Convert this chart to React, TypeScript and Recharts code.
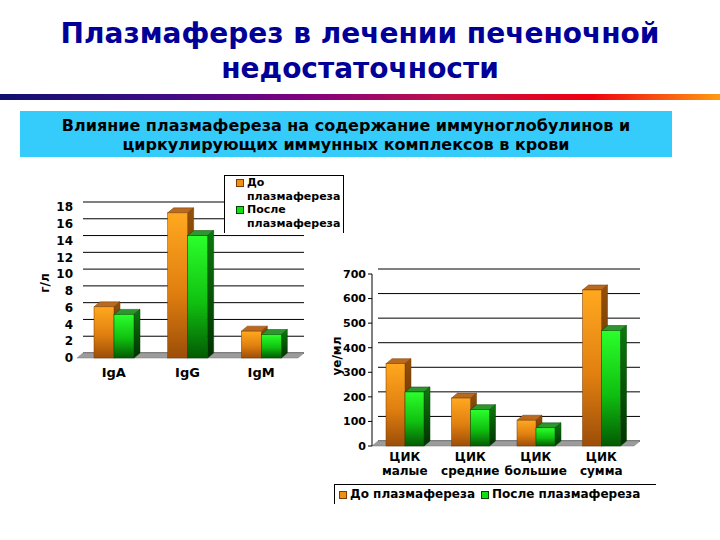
import { BarChart, Bar, XAxis, YAxis, CartesianGrid, ReferenceArea } from "recharts";

// left chart: immunoglobulins, g/l
const igCategories = ["IgA", "IgG", "IgM"];
const igBefore = [6.1, 17.3, 3.2];
const igAfter = [5.2, 14.6, 2.8];
const igTicks = [0, 2, 4, 6, 8, 10, 12, 14, 16, 18];

// right chart: circulating immune complexes, units/ml
const cicCategories = ["ЦИК малые", "ЦИК средние", "ЦИК большие", "ЦИК сумма"];
const cicBefore = [335, 195, 105, 635];
const cicAfter = [220, 148, 74, 470];
const cicTicks = [0, 100, 200, 300, 400, 500, 600, 700];

const seriesNames = ["До плазмафереза", "После плазмафереза"];

const igData = igCategories.map((name, i) => ({ name, before: igBefore[i], after: igAfter[i] }));
const cicData = cicCategories.map((name, i) => ({ name, before: cicBefore[i], after: cicAfter[i] }));

const FONT = "'DejaVu Sans', Verdana, sans-serif";
const DX = 6;
const DY = 5;

const palette = {
  before: { front: "url(#gradOrange)", top: "#B96A1E", side: "url(#gradOrangeSide)", stroke: "#7a3b00", legend: "#F09010" },
  after: { front: "url(#gradGreen)", top: "#2E962E", side: "url(#gradGreenSide)", stroke: "#004400", legend: "#10E010" },
};

const makeBar3D = (c: typeof palette.before) => (props: any) => {
  const { x, y, width, height } = props;
  if (!height || height <= 0) return <g />;
  return (
    <g>
      <polygon
        points={`${x},${y} ${x + DX},${y - DY} ${x + width + DX},${y - DY} ${x + width},${y}`}
        fill={c.top}
        stroke={c.stroke}
        strokeWidth={0.5}
      />
      <polygon
        points={`${x + width},${y} ${x + width + DX},${y - DY} ${x + width + DX},${y + height - DY} ${x + width},${y + height}`}
        fill={c.side}
        stroke={c.stroke}
        strokeWidth={0.5}
      />
      <rect x={x} y={y} width={width} height={height} fill={c.front} stroke={c.stroke} strokeWidth={0.5} />
    </g>
  );
};

const wallLine = (p: any) => (
  <line
    key={`wl-${p.index}-${p.y1}`}
    x1={p.x1 + DX}
    y1={p.y1 - DY}
    x2={p.x2 + DX}
    y2={p.y2 - DY}
    stroke="#000"
    strokeWidth={1}
  />
);

const floorShape = (p: any) => {
  const { x, y, width } = p;
  return (
    <polygon
      points={`${x},${y} ${x + DX},${y - DY} ${x + width + DX},${y - DY} ${x + width},${y}`}
      fill="#9c9c9c"
      stroke="#7a7a7a"
      strokeWidth={0.5}
    />
  );
};

const Gradients = () => (
  <defs>
    <linearGradient id="gradOrange" x1="0" y1="0" x2="0" y2="1">
      <stop offset="0%" stopColor="#FFA81F" />
      <stop offset="55%" stopColor="#E07F10" />
      <stop offset="100%" stopColor="#9C4D08" />
    </linearGradient>
    <linearGradient id="gradOrangeSide" x1="0" y1="0" x2="0" y2="1">
      <stop offset="0%" stopColor="#94500A" />
      <stop offset="100%" stopColor="#4E2600" />
    </linearGradient>
    <linearGradient id="gradGreen" x1="0" y1="0" x2="0" y2="1">
      <stop offset="0%" stopColor="#2BFF2B" />
      <stop offset="55%" stopColor="#10C010" />
      <stop offset="100%" stopColor="#035A03" />
    </linearGradient>
    <linearGradient id="gradGreenSide" x1="0" y1="0" x2="0" y2="1">
      <stop offset="0%" stopColor="#0B7A0B" />
      <stop offset="100%" stopColor="#023002" />
    </linearGradient>
  </defs>
);

const tickStyle = (size: number) => ({ fill: "#000", fontSize: size, fontWeight: "bold", fontFamily: FONT });

const IgTick = (p: any) => (
  <text x={p.x} y={p.y} dy={19} textAnchor="middle" fontSize={13} fontWeight="bold" fontFamily={FONT} fill="#000">
    {p.payload.value}
  </text>
);

const CicTick = (p: any) => {
  const [a, b] = String(p.payload.value).split(" ");
  return (
    <text x={p.x} y={p.y} textAnchor="middle" fontSize={12} fontWeight="bold" fontFamily={FONT} fill="#000">
      <tspan x={p.x} dy={15}>{a}</tspan>
      <tspan x={p.x} dy={14}>{b}</tspan>
    </text>
  );
};

const swatch = (color: string, border: string) => ({
  display: "inline-block",
  width: 6,
  height: 6,
  background: color,
  border: `1px solid ${border}`,
});

export default function App() {
  return (
    <div style={{ position: "absolute", left: 0, top: 0, width: 720, height: 540, background: "#fff", overflow: "hidden", fontFamily: FONT }}>
      <div
        style={{
          position: "absolute",
          top: 16,
          left: 0,
          width: 720,
          textAlign: "center",
          color: "#000099",
          fontWeight: "bold",
          fontSize: 28,
          lineHeight: "35px",
        }}
      >
        Плазмаферез в лечении печеночной
        <br />
        недостаточности
      </div>
      <div
        style={{
          position: "absolute",
          top: 94,
          left: 0,
          width: 720,
          height: 6,
          background: "linear-gradient(to right, #10106e 0%, #3c0c86 22%, #800080 42%, #c0104a 62%, #f00010 82%, #ff9a10 100%)",
        }}
      />
      <div
        style={{
          position: "absolute",
          top: 111,
          left: 20,
          width: 652,
          height: 46,
          background: "#35CCFB",
          textAlign: "center",
          fontWeight: "bold",
          fontSize: 16,
          lineHeight: "19px",
          paddingTop: 5,
          boxSizing: "border-box",
          color: "#000",
        }}
      >
        Влияние плазмафереза на содержание иммуноглобулинов и
        <br />
        циркулирующих иммунных комплексов в крови
      </div>

      {/* left chart */}
      <div style={{ position: "absolute", left: 0, top: 160 }}>
        <BarChart width={360} height={240} data={igData} margin={{ top: 47, right: 62, bottom: 12, left: 27 }} barGap={0}>
          <Gradients />
          <CartesianGrid vertical={false} horizontal={wallLine} />
          <ReferenceArea y1={0} y2={0} shape={floorShape} />
          <XAxis dataKey="name" axisLine={false} tickLine={false} tickSize={0} tickMargin={0} height={30} tick={IgTick} interval={0} />
          <YAxis
            domain={[0, 18]}
            ticks={igTicks}
            width={50}
            axisLine={false}
            tickLine={false}
            tickSize={0}
            tickMargin={4}
            tick={tickStyle(12)}
            interval={0}
          />
          <Bar dataKey="before" name={seriesNames[0]} barSize={20} isAnimationActive={false} shape={makeBar3D(palette.before)} />
          <Bar dataKey="after" name={seriesNames[1]} barSize={20} isAnimationActive={false} shape={makeBar3D(palette.after)} />
        </BarChart>
      </div>
      <div
        style={{
          position: "absolute",
          left: 33,
          top: 275,
          width: 24,
          textAlign: "center",
          transform: "rotate(-90deg)",
          fontWeight: "bold",
          fontSize: 12,
          lineHeight: "16px",
        }}
      >
        г/л
      </div>
      <div
        style={{
          position: "absolute",
          left: 224,
          top: 175,
          width: 120,
          height: 58,
          borderTop: "1px solid #000",
          borderLeft: "1px solid #000",
          borderRight: "1px solid #000",
          background: "#fff",
          fontWeight: "bold",
          fontSize: 11,
          lineHeight: "13.7px",
          boxSizing: "border-box",
        }}
      >
        {seriesNames.map((n, i) => (
          <div key={n} style={{ position: "relative", paddingLeft: 22, width: 96 }}>
            <span
              style={{
                ...swatch(i === 0 ? palette.before.legend : palette.after.legend, i === 0 ? palette.before.stroke : palette.after.stroke),
                position: "absolute",
                left: 11,
                top: 3,
              }}
            />
            {n}
          </div>
        ))}
      </div>

      {/* right chart */}
      <div style={{ position: "absolute", left: 320, top: 250 }}>
        <BarChart width={340} height={240} data={cicData} margin={{ top: 24, right: 26, bottom: 8, left: 12 }} barGap={0}>
          <Gradients />
          <CartesianGrid vertical={false} horizontal={wallLine} />
          <ReferenceArea y1={0} y2={0} shape={floorShape} />
          <XAxis dataKey="name" axisLine={false} tickLine={false} tickSize={0} tickMargin={0} height={36} tick={CicTick} interval={0} />
          <YAxis
            domain={[0, 700]}
            ticks={cicTicks}
            width={40}
            axisLine={{ stroke: "#000" }}
            tickLine={{ stroke: "#000" }}
            tickSize={4}
            tickMargin={2}
            tick={tickStyle(11)}
            interval={0}
          />
          <Bar dataKey="before" name={seriesNames[0]} barSize={19} isAnimationActive={false} shape={makeBar3D(palette.before)} />
          <Bar dataKey="after" name={seriesNames[1]} barSize={19} isAnimationActive={false} shape={makeBar3D(palette.after)} />
        </BarChart>
      </div>
      <div
        style={{
          position: "absolute",
          left: 310,
          top: 348,
          width: 54,
          textAlign: "center",
          transform: "rotate(-90deg)",
          fontWeight: "bold",
          fontSize: 12,
          lineHeight: "16px",
        }}
      >
        уе/мл
      </div>
      <div
        style={{
          position: "absolute",
          left: 334,
          top: 484,
          width: 322,
          height: 20,
          borderTop: "1px solid #000",
          borderLeft: "1px solid #000",
          fontWeight: "bold",
          fontSize: 12,
          lineHeight: "18px",
          whiteSpace: "nowrap",
          boxSizing: "border-box",
        }}
      >
        {seriesNames.map((n, i) => (
          <span key={n} style={{ position: "relative", paddingLeft: i === 0 ? 15 : 13, marginRight: 4 }}>
            <span
              style={{
                ...swatch(i === 0 ? palette.before.legend : palette.after.legend, i === 0 ? palette.before.stroke : palette.after.stroke),
                position: "absolute",
                left: i === 0 ? 4 : 2,
                top: 4,
              }}
            />
            {n}
          </span>
        ))}
      </div>
    </div>
  );
}
